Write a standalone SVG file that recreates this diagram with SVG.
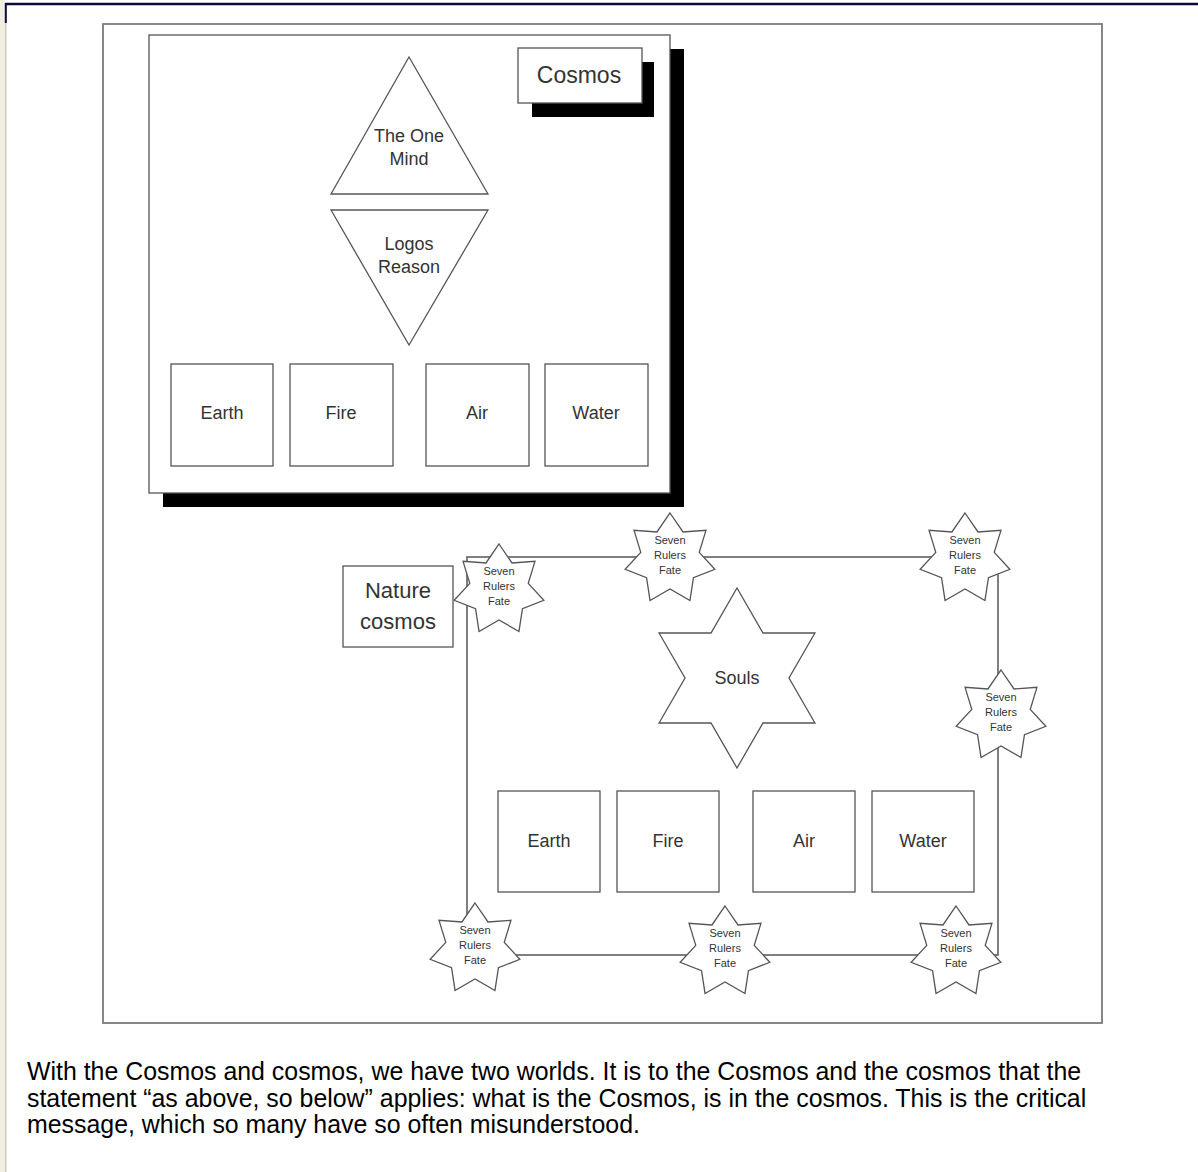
<svg xmlns="http://www.w3.org/2000/svg" width="1198" height="1172" viewBox="0 0 1198 1172">
<style>
.shape{fill:#fff;stroke:#555;stroke-width:1.3}
.lbl{font-family:"Liberation Sans",Arial,sans-serif;fill:#333;text-anchor:middle}
.el{font-size:18px}
.st{font-size:11px}
.body{font-family:"Liberation Sans",Arial,sans-serif;font-size:24.9px;fill:#000}
</style>
<defs>
<path id="star7" d="M0,-46 L13.02,-27.03 L35.96,-28.68 L29.25,-6.68 L44.85,10.24 L23.45,18.71 L19.96,41.45 L0,30 L-19.96,41.45 L-23.45,18.71 L-44.85,10.24 L-29.25,-6.68 L-35.96,-28.68 L-13.02,-27.03 Z"/>
</defs>
<rect width="1198" height="1172" fill="#fff"/>
<rect x="0" y="0" width="5" height="1172" fill="#f1efe3"/>
<line x1="5" y1="4" x2="1198" y2="4" stroke="#0b0b3b" stroke-width="2.5"/>
<line x1="5.8" y1="3" x2="5.8" y2="23" stroke="#0b0b3b" stroke-width="2"/>
<line x1="5.8" y1="23" x2="5.8" y2="1172" stroke="#cfcbb8" stroke-width="1.5"/>
<rect x="103" y="24" width="999" height="999" fill="none" stroke="#7a7a7a" stroke-width="1.8"/>

<g id="cosmos-box">
<rect x="163" y="49" width="521" height="458" fill="#000"/>
<rect x="149" y="35" width="521" height="458" class="shape" stroke="#666" stroke-width="1.6"/>
</g>
<g id="cosmos-label">
<rect x="532" y="62" width="122" height="55" fill="#000"/>
<rect x="518" y="48" width="124" height="55" class="shape"/>
<text x="579" y="83" class="lbl" font-size="23" fill="#222">Cosmos</text>
</g>
<g id="one-mind">
<polygon points="409,57 488,194 331,194" class="shape"/>
<text x="409" y="142" class="lbl el">The One</text>
<text x="409" y="165" class="lbl el">Mind</text>
</g>
<g id="logos">
<polygon points="331,210 488,210 409,345" class="shape"/>
<text x="409" y="250" class="lbl el">Logos</text>
<text x="409" y="273" class="lbl el">Reason</text>
</g>
<g id="earth1"><rect x="171" y="364" width="102" height="102" class="shape"/><text x="222" y="419" class="lbl el">Earth</text></g>
<g id="fire1"><rect x="290" y="364" width="103" height="102" class="shape"/><text x="341" y="419" class="lbl el">Fire</text></g>
<g id="air1"><rect x="426" y="364" width="103" height="102" class="shape"/><text x="477" y="419" class="lbl el">Air</text></g>
<g id="water1"><rect x="545" y="364" width="103" height="102" class="shape"/><text x="596" y="419" class="lbl el">Water</text></g>

<g id="connectors">
<path d="M467,557 H998 V955 H467 Z" fill="none" stroke="#555" stroke-width="1.5"/>
</g>

<g id="nature-label">
<rect x="343" y="566" width="110" height="81" class="shape"/>
<text x="398" y="598" class="lbl" font-size="22" fill="#222">Nature</text>
<text x="398" y="629" class="lbl" font-size="22" fill="#222">cosmos</text>
</g>

<g id="souls">
<polygon transform="translate(737,678)" points="0,-90 26,-45 77.94,-45 52,0 77.94,45 26,45 0,90 -26,45 -77.94,45 -52,0 -77.94,-45 -26,-45" class="shape"/>
<text x="737" y="684" class="lbl el">Souls</text>
</g>

<g id="earth2"><rect x="498" y="791" width="102" height="101" class="shape"/><text x="549" y="847" class="lbl el">Earth</text></g>
<g id="fire2"><rect x="617" y="791" width="102" height="101" class="shape"/><text x="668" y="847" class="lbl el">Fire</text></g>
<g id="air2"><rect x="753" y="791" width="102" height="101" class="shape"/><text x="804" y="847" class="lbl el">Air</text></g>
<g id="water2"><rect x="872" y="791" width="102" height="101" class="shape"/><text x="923" y="847" class="lbl el">Water</text></g>

<g id="star1" transform="translate(499,590)"><use href="#star7" class="shape"/><text y="-15" class="lbl st">Seven</text><text y="0" class="lbl st">Rulers</text><text y="15" class="lbl st">Fate</text></g>
<g id="star2" transform="translate(670,559)"><use href="#star7" class="shape"/><text y="-15" class="lbl st">Seven</text><text y="0" class="lbl st">Rulers</text><text y="15" class="lbl st">Fate</text></g>
<g id="star3" transform="translate(965,559)"><use href="#star7" class="shape"/><text y="-15" class="lbl st">Seven</text><text y="0" class="lbl st">Rulers</text><text y="15" class="lbl st">Fate</text></g>
<g id="star4" transform="translate(1001,716)"><use href="#star7" class="shape"/><text y="-15" class="lbl st">Seven</text><text y="0" class="lbl st">Rulers</text><text y="15" class="lbl st">Fate</text></g>
<g id="star5" transform="translate(475,949)"><use href="#star7" class="shape"/><text y="-15" class="lbl st">Seven</text><text y="0" class="lbl st">Rulers</text><text y="15" class="lbl st">Fate</text></g>
<g id="star6" transform="translate(725,952)"><use href="#star7" class="shape"/><text y="-15" class="lbl st">Seven</text><text y="0" class="lbl st">Rulers</text><text y="15" class="lbl st">Fate</text></g>
<g id="star7n" transform="translate(956,952)"><use href="#star7" class="shape"/><text y="-15" class="lbl st">Seven</text><text y="0" class="lbl st">Rulers</text><text y="15" class="lbl st">Fate</text></g>

<g id="caption">
<text x="27" y="1080" class="body">With the Cosmos and cosmos, we have two worlds. It is to the Cosmos and the cosmos that the</text>
<text x="27" y="1107" class="body">statement “as above, so below” applies: what is the Cosmos, is in the cosmos. This is the critical</text>
<text x="27" y="1133" class="body">message, which so many have so often misunderstood.</text>
</g>
</svg>
